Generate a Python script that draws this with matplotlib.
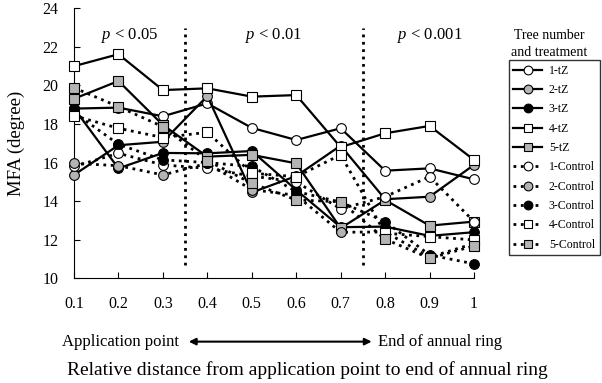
import matplotlib
matplotlib.use("Agg")
import matplotlib.pyplot as plt
from matplotlib.patches import FancyArrowPatch

# relative distance (x) and MFA values
distance = [0.1, 0.2, 0.3, 0.4, 0.5, 0.6, 0.7, 0.8, 0.9, 1.0]

tz_1 = [18.8, 18.85, 18.4, 19.07, 17.8, 17.17, 17.78, 15.58, 15.7, 15.13]
tz_2 = [15.36, 16.9, 17.08, 19.45, 14.45, 15.3, 16.88, 14.1, 14.23, 15.88]
tz_3 = [18.82, 15.7, 16.5, 16.48, 16.6, 14.58, 12.65, 12.68, 12.2, 12.39]
tz_4 = [21.0, 21.62, 19.76, 19.85, 19.42, 19.5, 16.8, 17.52, 17.9, 16.14]
tz_5 = [19.31, 20.23, 17.95, 16.31, 16.4, 15.96, 12.6, 14.06, 12.73, 12.94]

ctrl_1 = [15.8, 16.48, 15.88, 15.7, 15.3, 15.0, 13.6, 14.23, 15.27, 12.94]
ctrl_2 = [15.96, 15.84, 15.36, 15.96, 14.6, 14.3, 12.39, 12.4, 11.1, 11.8]
ctrl_3 = [18.6, 16.95, 16.14, 16.0, 15.8, 14.5, 13.95, 12.94, 11.21, 10.75]
ctrl_4 = [18.43, 17.78, 17.3, 17.57, 15.45, 15.27, 16.4, 12.34, 12.16, 11.99]
ctrl_5 = [19.88, 18.9, 17.86, 16.1, 14.93, 14.06, 13.97, 12.03, 11.04, 11.68]

labels = ["1-tZ", "2-tZ", "3-tZ", "4-tZ", "5-tZ",
          "1-Control", "2-Control", "3-Control", "4-Control", "5-Control"]
p_labels = ["< 0.05", "< 0.01", "< 0.001"]
p_pos = [0.225, 0.55, 0.9]
dividers = [0.35, 0.75]

GREY = "#b4b4b4"
# marker shape and face for tree 1..5
styles = [("o", "white"), ("o", GREY), ("o", "black"), ("s", "white"), ("s", GREY)]

plt.rcParams["font.family"] = ["Liberation Serif", "DejaVu Serif"]
plt.rcParams["mathtext.fontset"] = "custom"
plt.rcParams["mathtext.it"] = "Liberation Serif:italic"
plt.rcParams["mathtext.rm"] = "Liberation Serif"

fig = plt.figure(figsize=(6.02, 3.83), dpi=100)
ax = fig.add_axes([0.1229, 0.2734, 0.6645, 0.7049])

series = [tz_1, tz_2, tz_3, tz_4, tz_5, ctrl_1, ctrl_2, ctrl_3, ctrl_4, ctrl_5]
handles = []
for i, (vals, lab) in enumerate(zip(series, labels)):
    marker, face = styles[i % 5]
    ls = "-" if i < 5 else ":"
    h, = ax.plot(distance, vals, linestyle=ls, color="black", lw=1.6 if i < 5 else 2.0,
                 marker=marker, markersize=7, markerfacecolor=face,
                 markeredgecolor="black", markeredgewidth=0.8, clip_on=False,
                 label=lab, zorder=3)
    handles.append(h)

for d in dividers:
    ax.plot([d, d], [10.7, 23.0], linestyle=":", color="black", lw=2.0)

for txt, xp in zip(p_labels, p_pos):
    ax.text(xp, 22.6, "$p$ " + txt, ha="center", va="center", fontsize=12)

ax.set_xlim(0.1, 1.0)
ax.set_ylim(10, 24)
ax.set_xticks(distance)
ax.set_xticklabels(["0.1", "0.2", "0.3", "0.4", "0.5", "0.6", "0.7", "0.8", "0.9", "1"])
ax.set_yticks(range(10, 25, 2))
ax.tick_params(direction="in", labelsize=11.5, length=4)
ax.tick_params(axis="x", pad=13)
ax.tick_params(axis="y", pad=11)
for s in ["top", "right"]:
    ax.spines[s].set_visible(False)
ax.set_ylabel("MFA (degree)", fontsize=13.5)
ax.yaxis.set_label_coords(-0.122, 0.5)

# legend with title outside the box
fig.text(0.912, 0.885, "Tree number\nand treatment", ha="center", va="center",
         fontsize=10, linespacing=1.35)
leg = fig.legend(handles=handles, loc="upper left", bbox_to_anchor=(0.845, 0.843),
                 fontsize=8.5, frameon=True, fancybox=False, edgecolor="black",
                 handlelength=2.4, labelspacing=0.62, borderpad=0.4,
                 handletextpad=0.6, borderaxespad=0.0, markerscale=0.9)
leg.get_frame().set_linewidth(1.0)

# arrow between application point and end of annual ring
fig.text(0.103, 0.108, "Application point", ha="left", va="center", fontsize=12)
fig.text(0.628, 0.108, "End of annual ring", ha="left", va="center", fontsize=12)
fig.add_artist(FancyArrowPatch(
    (0.309, 0.108), (0.622, 0.108), transform=fig.transFigure,
    arrowstyle="<|-|>", mutation_scale=10, color="black", lw=1.5))
fig.text(0.51, 0.035, "Relative distance from application point to end of annual ring",
         ha="center", va="center", fontsize=14)

fig.savefig("out.png", dpi=100)
